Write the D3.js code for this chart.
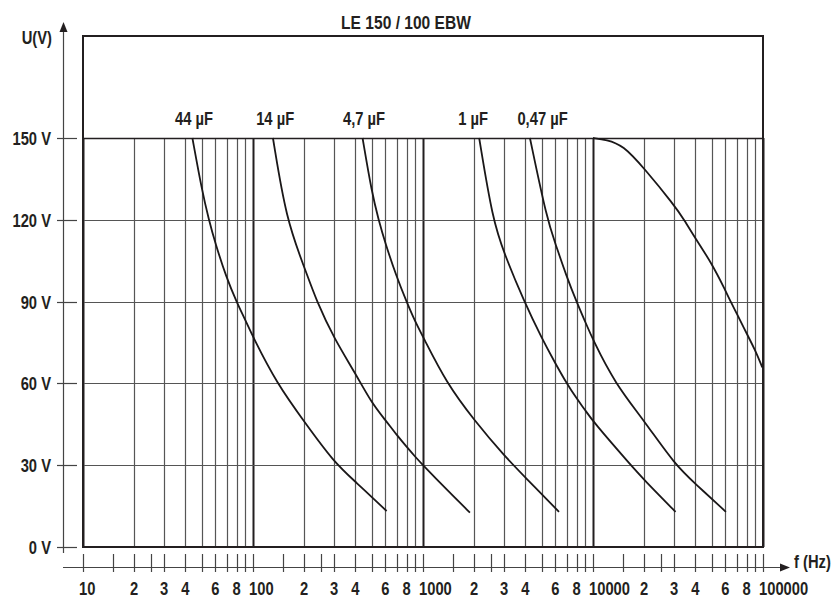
<!DOCTYPE html>
<html>
<head>
<meta charset="utf-8">
<script src="https://cdn.jsdelivr.net/npm/d3@7"></script>
<style>
  body { margin: 0; background: #fff; }
  svg text { font-family: "Liberation Sans", Arial, sans-serif; font-weight: bold; fill: #231f20; }
</style>
</head>
<body>
<div id="chart"></div>
<script>
// LE 150 / 100 EBW - voltage vs frequency

const title = "LE 150 / 100 EBW";
const capLabels = ["44 µF", "14 µF", "4,7 µF", "1 µF", "0,47 µF"];
// frequency (Hz) where each label sits
const labelFreq = [45, 135, 450, 1970, 5050];

// [frequency Hz, voltage V]
const c44 = [[44, 150], [50, 131], [55, 120], [60, 111.4], [70, 98.5], [80, 90], [90, 83.3], [100, 77], [138, 60], [200, 46], [300, 31], [400, 24], [611, 13.2]];
const c14 = [[131, 150], [157, 120], [200, 102.8], [237, 90], [300, 76.5], [400, 63.7], [500, 52.7], [600, 46.6], [700, 41.1], [800, 36.8], [900, 33.1], [1000, 30], [1380, 21], [1888, 12.6]];
const c4_7 = [[441, 150], [500, 130], [548, 120], [600, 111.4], [700, 99], [800, 90], [900, 82.6], [1000, 77.1], [1378, 60], [2000, 46.5], [3000, 33.5], [4000, 25.5], [6310, 12.9]];
const c1 = [[2140, 150], [2570, 120], [3000, 107.7], [3935, 90], [5000, 76.5], [6000, 67.4], [7000, 60], [8000, 54.5], [9000, 50.2], [10000, 46], [16700, 30], [20000, 24.6], [30600, 12.9]];
const c047 = [[4256, 150], [5370, 120], [6000, 111.4], [7000, 99.1], [8000, 90], [9000, 82.6], [10000, 75.9], [13470, 60], [20000, 46.3], [30500, 30], [40000, 23.2], [60500, 12.9]];
const cTop = [[10000, 150], [12000, 149.4], [15000, 147.4], [20000, 138.9], [30000, 125.4], [34400, 120], [40000, 113.2], [50000, 104], [60000, 94.2], [64500, 90], [70000, 85.7], [80000, 78.4], [90000, 72.2], [99000, 65.9]];
const curves = [c44, c14, c4_7, c1, c047, cTop];

const yTicks = [0, 30, 60, 90, 120, 150];
const decades = [10, 100, 1000, 10000, 100000];
const gridMult = [1, 2, 3, 4, 5, 6, 7, 8, 9];
const tickMult = [1, 1.5, 2, 2.5, 3, 4, 5, 6, 7, 8, 9];
const labelMult = [2, 3, 4, 6, 8];

const width = 835;
const height = 599;
const plotLeft = 83, plotRight = 763, plotTop = 36, plotBottom = 547;
const ink = "#231f20";
const narrow = 0.82; // squeeze to look like a narrow bold face

const x = d3.scaleLog().domain([10, 100000]).range([plotLeft, plotRight]);
const y = d3.scaleLinear().domain([0, 150]).range([plotBottom, 138]);

const svg = d3.select("#chart").append("svg")
  .attr("width", width)
  .attr("height", height);

function place(sel, fx, fy, size = 18) {
  sel.attr("transform", (d, i) => `translate(${fx(d, i)},${fy(d, i)}) scale(${narrow},1)`)
    .attr("font-size", size + "px");
}

// Vertical grid lines (only up to 150 V)
const gridFreqs = [];
decades.slice(0, -1).forEach(d => gridMult.forEach(m => gridFreqs.push(d * m)));
gridFreqs.push(100000);

svg.append("g").selectAll("line")
  .data(gridFreqs)
  .join("line")
  .attr("x1", d => Math.round(x(d)) + 0.5)
  .attr("x2", d => Math.round(x(d)) + 0.5)
  .attr("y1", y(150))
  .attr("y2", plotBottom)
  .attr("stroke", d => decades.includes(d) ? ink : "#555")
  .attr("stroke-width", d => decades.includes(d) ? 2 : 1.2);

// Horizontal grid lines
svg.append("g").selectAll("line")
  .data(yTicks.slice(1))
  .join("line")
  .attr("x1", plotLeft)
  .attr("x2", plotRight)
  .attr("y1", d => Math.round(y(d)) + 0.5)
  .attr("y2", d => Math.round(y(d)) + 0.5)
  .attr("stroke", d => d === 150 ? ink : "#555")
  .attr("stroke-width", d => d === 150 ? 1.6 : 1.2);

// Plot frame
svg.append("rect")
  .attr("x", plotLeft)
  .attr("y", plotTop)
  .attr("width", plotRight - plotLeft)
  .attr("height", plotBottom - plotTop)
  .attr("fill", "none")
  .attr("stroke", ink)
  .attr("stroke-width", 2);

// Curves
const line = d3.line()
  .x(d => x(d[0]))
  .y(d => y(d[1]))
  .curve(d3.curveBasis);

svg.append("g").selectAll("path")
  .data(curves)
  .join("path")
  .attr("d", line)
  .attr("fill", "none")
  .attr("stroke", "#1a1718")
  .attr("stroke-width", 1.8);

// Capacitance labels
svg.append("g").selectAll("text")
  .data(capLabels)
  .join("text")
  .call(place, (d, i) => x(labelFreq[i]), () => 125)
  .attr("text-anchor", "middle")
  .text(d => d);

// Title
svg.append("text")
  .datum(title)
  .call(place, () => 406, () => 29, 19)
  .attr("text-anchor", "middle")
  .text(d => d);

// Y axis
const yAxisX = 63;
svg.append("line")
  .attr("x1", yAxisX + 0.5).attr("x2", yAxisX + 0.5)
  .attr("y1", 553).attr("y2", 30)
  .attr("stroke", "#444").attr("stroke-width", 1.2);
svg.append("path")
  .attr("d", `M${yAxisX + 0.5},22 L${yAxisX - 3.5},32 L${yAxisX + 4.5},32 Z`)
  .attr("fill", ink);

svg.append("g").selectAll("line")
  .data(yTicks)
  .join("line")
  .attr("x1", 57).attr("x2", 77)
  .attr("y1", d => Math.round(y(d)) + 0.5)
  .attr("y2", d => Math.round(y(d)) + 0.5)
  .attr("stroke", "#444").attr("stroke-width", 1.2);

svg.append("g").selectAll("text")
  .data(yTicks)
  .join("text")
  .call(place, () => 51, d => y(d) + 7)
  .attr("text-anchor", "end")
  .text(d => d + " V");

svg.append("text")
  .datum("U(V)")
  .call(place, () => 52, () => 44)
  .attr("text-anchor", "end")
  .text(d => d);

// X axis
const xAxisY = 567;
svg.append("line")
  .attr("x1", 63).attr("x2", 782)
  .attr("y1", xAxisY + 0.5).attr("y2", xAxisY + 0.5)
  .attr("stroke", "#444").attr("stroke-width", 1.2);
svg.append("path")
  .attr("d", `M790,${xAxisY + 0.5} L780,${xAxisY - 3.5} L780,${xAxisY + 4.5} Z`)
  .attr("fill", ink);

const tickFreqs = [];
decades.slice(0, -1).forEach(d => tickMult.forEach(m => tickFreqs.push(d * m)));
tickFreqs.push(100000);

svg.append("g").selectAll("line")
  .data(tickFreqs)
  .join("line")
  .attr("x1", d => Math.round(x(d)) + 0.5)
  .attr("x2", d => Math.round(x(d)) + 0.5)
  .attr("y1", 554).attr("y2", 572)
  .attr("stroke", "#444").attr("stroke-width", 1.2);

const xLabels = [];
decades.forEach((d, i) => {
  xLabels.push({ f: d, text: String(d), decade: true });
  if (i < decades.length - 1) labelMult.forEach(m => xLabels.push({ f: d * m, text: String(m), decade: false }));
});

svg.append("g").selectAll("text")
  .data(xLabels)
  .join("text")
  .call(place, d => d.decade ? x(d.f) - 4 : x(d.f), () => 595)
  .attr("text-anchor", d => d.decade ? "start" : "middle")
  .text(d => d.text);

svg.append("text")
  .datum("f (Hz)")
  .call(place, () => 794, () => 568)
  .text(d => d);
</script>
</body>
</html>
